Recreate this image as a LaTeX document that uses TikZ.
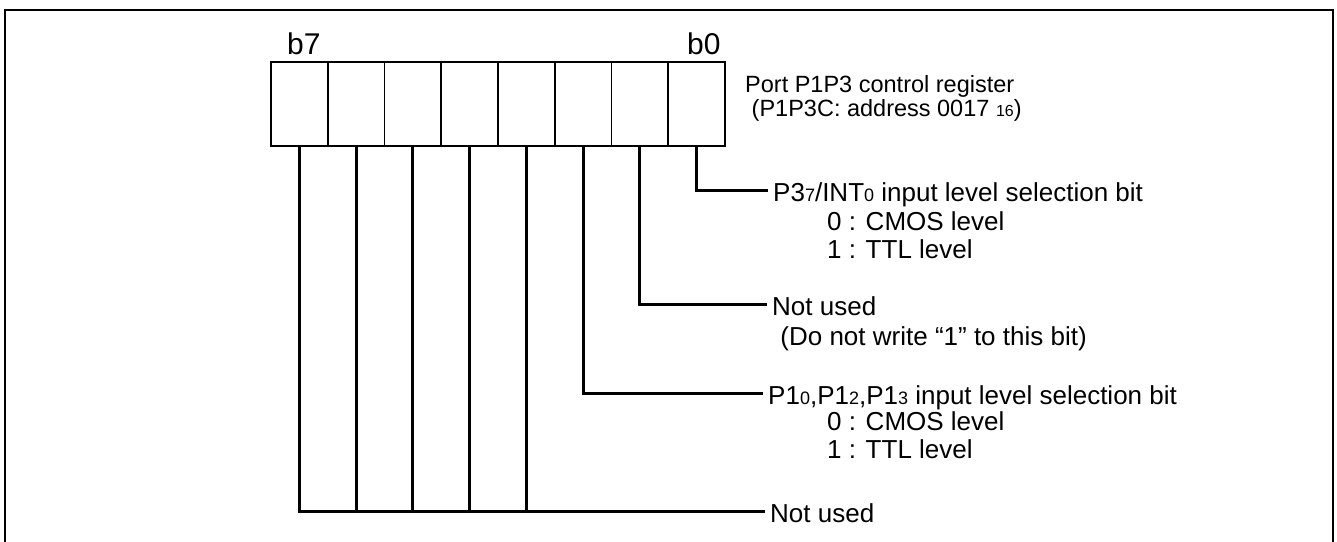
\documentclass[tikz,border=0pt]{standalone}
\usepackage{fontspec}
\setmainfont{Liberation Sans}
\newcommand{\smsub}[1]{{\fontsize{18}{18}\selectfont #1}}
\newcommand{\tsub}[1]{{\fontsize{16}{16}\selectfont #1}}
\begin{document}
\begin{tikzpicture}[x=1pt,y=-1pt,
  cell/.style={draw,line width=1.6pt,minimum width=56.75pt,minimum height=84pt,inner sep=0pt,outer sep=0pt,anchor=north west},
  lead/.style={line width=3pt,line join=miter},
  frame/.style={line width=2.5pt,line join=miter},
  title/.style={font=\fontsize{23.5}{26}\selectfont,inner sep=0pt,anchor=base west},
  txt/.style={font=\fontsize{26}{28}\selectfont,inner sep=0pt,anchor=base west},
  lab/.style={font=\fontsize{26}{28}\selectfont,inner ysep=0pt,inner xsep=5pt,text height=22pt,text depth=0pt,anchor=west},
  bitlab/.style={font=\fontsize{30}{32}\selectfont,inner sep=0pt,anchor=base west}]
\useasboundingbox (0,0) rectangle (1337,541);
% outer frame (open at the bottom)
\draw[frame] (5,545) -- (5,10) -- (1333,10) -- (1333,545);
% register cells, b7 on the left
\foreach \b [evaluate=\b as \xx using {271+(7-\b)*56.75}] in {7,6,5,4,3,2,1,0}
  \node[cell] (c\b) at (\xx,62) {};
% bit labels
\node[bitlab] (b7) at (287,54) {b7};
\node[bitlab] (b0) at (687,54) {b0};
% register title
\node[title] (t1) at (745,92) {Port P1P3 control register};
\node[title] (t2) at (745,116) {\ (P1P3C: address 0017 \tsub{16})};
% labels
\node[lab] (l0) at (768,190) {P3\smsub{7}/INT\smsub{0} input level selection bit};
\node[txt] (l0a) at (827,230) {0 : CMOS level};
\node[txt] (l0b) at (827,258) {1 : TTL level};
\node[lab] (l1) at (767,304) {Not used};
\node[txt] (l1a) at (773,345) {\ (Do not write “1” to this bit)};
\node[lab] (l2) at (763,393) {P1\smsub{0},P1\smsub{2},P1\smsub{3} input level selection bit};
\node[txt] (l2a) at (827,430) {0 : CMOS level};
\node[txt] (l2b) at (827,458) {1 : TTL level};
\node[lab] (l3) at (765,511) {Not used};
% leads
\draw[lead] (c0.south) |- (l0.west);
\draw[lead] (c1.south) |- (l1.west);
\draw[lead] (c2.south) |- (l2.west);
\draw[lead] (c7.south) |- (l3.west);
\foreach \b in {3,4,5,6}
  \draw[lead] (c\b.south) -- (c\b.south |- l3.west);
\end{tikzpicture}
\end{document}
